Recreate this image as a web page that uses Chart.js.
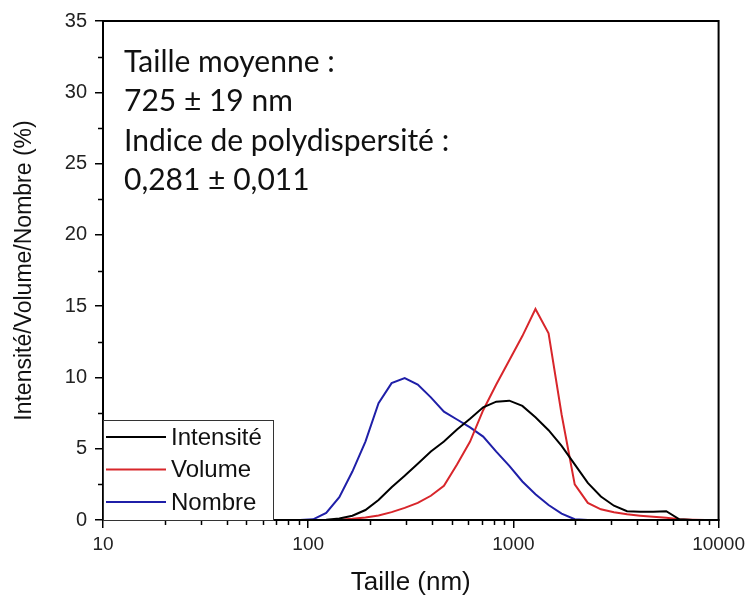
<!DOCTYPE html>
<html>
<head>
<meta charset="utf-8">
<script src="https://cdn.jsdelivr.net/npm/chart.js@4"></script>
<style>
  html, body { margin: 0; padding: 0; background: #fff; }
  #wrap { width: 750px; height: 600px; }
</style>
</head>
<body>
<div id="wrap"><canvas id="dls" width="750" height="600"></canvas></div>
<script>
// Diamètres (nm) des classes de taille
const tailles = [10.10, 11.70, 13.54, 15.69, 18.17, 21.04, 24.36, 28.21, 32.67, 37.84,
  43.82, 50.75, 58.77, 68.06, 78.82, 91.28, 105.7, 122.4, 141.8, 164.2,
  190.1, 220.2, 255.0, 295.3, 342.0, 396.1, 458.7, 531.2, 615.1, 712.4,
  825.0, 955.4, 1106, 1281, 1484, 1718, 1990, 2305, 2669, 3091,
  3580, 4145, 4801, 5560, 6439, 7456, 8635, 10000];

// distributions en %
const intensite = [0, 0, 0, 0, 0, 0, 0, 0, 0, 0,
  0, 0, 0, 0, 0, 0, 0, 0.02, 0.1, 0.3,
  0.7, 1.4, 2.3, 3.1, 3.95, 4.8, 5.5, 6.35, 7.1, 7.9,
  8.3, 8.37, 8.0, 7.2, 6.3, 5.2, 3.9, 2.6, 1.65, 1.0,
  0.62, 0.58, 0.58, 0.62, 0.05, 0, 0, 0];
const volume = [0, 0, 0, 0, 0, 0, 0, 0, 0, 0,
  0, 0, 0, 0, 0, 0, 0, 0, 0.02, 0.08,
  0.18, 0.32, 0.55, 0.85, 1.2, 1.7, 2.4, 3.9, 5.5, 7.7,
  9.5, 11.2, 12.9, 14.8, 13.1, 7.4, 2.5, 1.2, 0.75, 0.55,
  0.4, 0.3, 0.22, 0.15, 0.05, 0.02, 0, 0];
const nombre = [0, 0, 0, 0, 0, 0, 0, 0, 0, 0,
  0, 0, 0, 0, 0, 0, 0.05, 0.5, 1.6, 3.4,
  5.5, 8.2, 9.6, 9.95, 9.5, 8.6, 7.6, 7.05, 6.5, 5.85,
  4.8, 3.8, 2.7, 1.8, 1.05, 0.45, 0.05, 0, 0, 0,
  0, 0, 0, 0, 0, 0, 0, 0];

const xTicks = [10, 100, 1000, 10000];
const yTicks = [0, 5, 10, 15, 20, 25, 30, 35];
const noms = ["Intensité", "Volume", "Nombre"];
const couleurs = ["#000000", "#d8262b", "#1f1fa8"];
const annotation = ["Taille moyenne :", "725 ± 19 nm", "Indice de polydispersité :", "0,281 ± 0,011"];

const axeFont = "Liberation Sans, Arial, sans-serif";

function points(vals) {
  return tailles.map((t, i) => ({ x: t, y: vals[i] }));
}

// cadre, petites graduations, titres, légende et texte
const decor = {
  id: "decor",
  afterDraw(chart) {
    const { ctx, chartArea: a, scales: { x, y } } = chart;
    ctx.save();
    ctx.strokeStyle = "#000";
    ctx.lineWidth = 2;
    ctx.strokeRect(a.left, a.top, a.right - a.left, a.bottom - a.top);

    // graduations mineures
    ctx.lineWidth = 1.5;
    ctx.beginPath();
    for (let d = 10; d < 10000; d *= 10) {
      for (let k = 2; k <= 9; k++) {
        const px = Math.round(x.getPixelForValue(d * k)) + 0.5;
        ctx.moveTo(px, a.bottom);
        ctx.lineTo(px, a.bottom + 5);
      }
    }
    for (let v = 2.5; v < 35; v += 5) {
      const py = Math.round(y.getPixelForValue(v)) + 0.5;
      ctx.moveTo(a.left, py);
      ctx.lineTo(a.left - 5, py);
    }
    ctx.stroke();

    // titres des axes
    ctx.fillStyle = "#111";
    ctx.textAlign = "center";
    ctx.textBaseline = "middle";
    ctx.font = "26px " + axeFont;
    ctx.fillText("Taille (nm)", (a.left + a.right) / 2, 583);
    ctx.save();
    ctx.translate(25, (a.top + a.bottom) / 2);
    ctx.rotate(-Math.PI / 2);
    ctx.font = "23px " + axeFont;
    ctx.fillText("Intensité/Volume/Nombre (%)", 0, 0);
    ctx.restore();

    // légende
    const lx = a.left, ly = 420, lw = 170, lh = a.bottom - ly;
    ctx.fillStyle = "#fff";
    ctx.fillRect(lx, ly, lw, lh);
    ctx.lineWidth = 1;
    ctx.strokeStyle = "#333";
    ctx.strokeRect(lx + 0.5, ly + 0.5, lw, lh);
    ctx.font = "24px " + axeFont;
    ctx.textAlign = "left";
    noms.forEach((n, i) => {
      const cy = 437 + i * 32.5;
      ctx.strokeStyle = couleurs[i];
      ctx.lineWidth = 2;
      ctx.beginPath();
      ctx.moveTo(lx + 3, cy);
      ctx.lineTo(lx + 63, cy);
      ctx.stroke();
      ctx.fillStyle = "#111";
      ctx.fillText(n, lx + 68, cy + 1);
    });

    // valeurs mesurées
    ctx.font = "30px Lato, 'Open Sans', sans-serif";
    ctx.fillStyle = "#111";
    annotation.forEach((l, i) => {
      ctx.fillText(l, 124, 62 + i * 39.5);
    });
    ctx.restore();
  }
};

new Chart(document.getElementById("dls"), {
  type: "line",
  data: {
    datasets: [
      { label: noms[0], data: points(intensite), borderColor: couleurs[0] },
      { label: noms[1], data: points(volume), borderColor: couleurs[1] },
      { label: noms[2], data: points(nombre), borderColor: couleurs[2] }
    ]
  },
  options: {
    responsive: false,
    animation: false,
    devicePixelRatio: 1,
    layout: { padding: { top: 21, right: 31, left: 0, bottom: 0 } },
    elements: {
      line: { borderWidth: 2, tension: 0 },
      point: { radius: 0 }
    },
    plugins: { legend: { display: false }, tooltip: { enabled: false } },
    scales: {
      x: {
        type: "logarithmic",
        min: 10,
        max: 10000,
        afterBuildTicks: s => { s.ticks = xTicks.map(v => ({ value: v })); },
        afterFit: s => { s.height = 80; },
        ticks: {
          color: "#222",
          font: { family: axeFont, size: 19 },
          padding: 5,
          maxRotation: 0,
          callback: v => String(v)
        },
        grid: { drawOnChartArea: false, tickLength: 8, color: "#000", lineWidth: 1.5 },
        border: { color: "#000", width: 2 }
      },
      y: {
        min: 0,
        max: 35,
        afterBuildTicks: s => { s.ticks = yTicks.map(v => ({ value: v })); },
        afterFit: s => { s.width = 103; },
        ticks: {
          color: "#222",
          font: { family: axeFont, size: 20 },
          padding: 8
        },
        grid: { drawOnChartArea: false, tickLength: 8, color: "#000", lineWidth: 1.5 },
        border: { color: "#000", width: 2 }
      }
    }
  },
  plugins: [decor]
});
</script>
</body>
</html>
